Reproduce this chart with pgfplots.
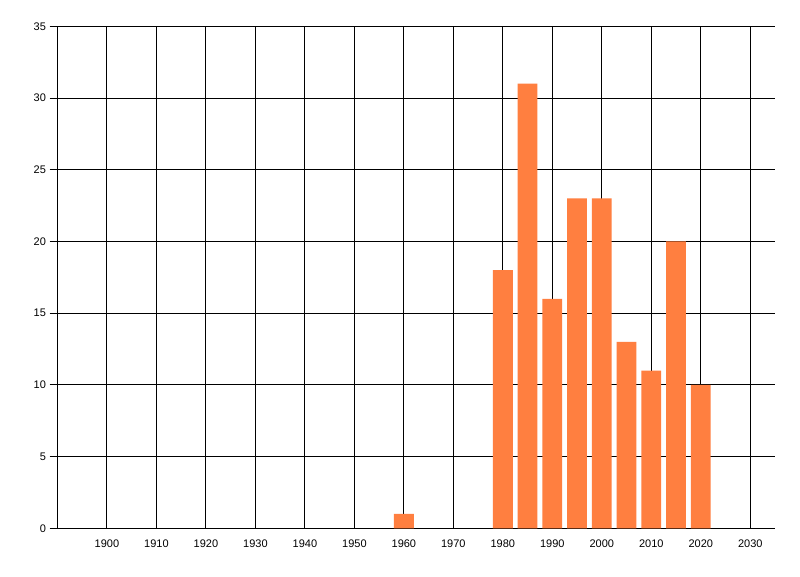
\documentclass[border=0pt]{standalone}
\usepackage{pgfplots}
\pgfplotsset{compat=1.18}
\usepackage{fontspec}
\setmainfont{Liberation Sans}
\definecolor{barorange}{RGB}{255,127,64}
\begin{document}
\begin{tikzpicture}
\fill[white] (0,0) rectangle (800pt,576pt);
\begin{axis}[
  at={(57.5pt,47.7pt)}, anchor=south west,
  scale only axis, width=717.5pt, height=502pt,
  xmin=1890, xmax=2035, ymin=0, ymax=35,
  xtick={1900,1910,...,2030}, ytick={0,5,...,35},
  xticklabel style={/pgf/number format/1000 sep={}},
  /pgf/number format/assume math mode=true,
  ticklabel style={font=\fontsize{11}{13}\selectfont, text=black},
  axis x line*=bottom, axis y line*=left,
  axis line style={black, line width=1pt, -},
  grid=major, major grid style={black, line width=1pt},
  xtick style={draw=none},
  ytick style={black, line width=1pt}, major tick length=8pt,
  tick align=outside,
  ybar, bar width=19.8pt,
]
\addplot[fill=barorange, draw=none] coordinates {
(1960,1) (1980,18) (1985,31) (1990,16) (1995,23) (2000,23) (2005,13) (2010,11) (2015,20) (2020,10)
};
\end{axis}
\end{tikzpicture}
\end{document}
